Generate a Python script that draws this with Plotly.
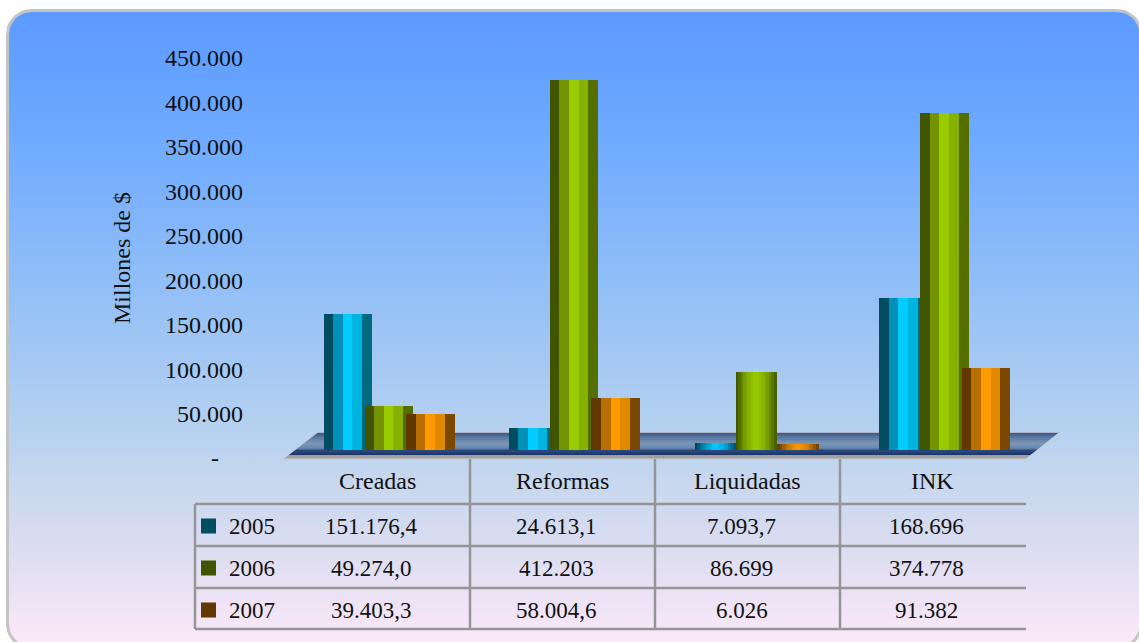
import numpy as np
import plotly.graph_objects as go

# ---------------- data ----------------
categories = ["Creadas", "Reformas", "Liquidadas", "INK"]
years = ["2005", "2006", "2007"]
values_2005 = [151176.4, 24613.1, 7093.7, 168696]
values_2006 = [49274.0, 412203, 86699, 374778]
values_2007 = [39403.3, 58004.6, 6026, 91382]
labels_2005 = ["151.176,4", "24.613,1", "7.093,7", "168.696"]
labels_2006 = ["49.274,0", "412.203", "86.699", "374.778"]
labels_2007 = ["39.403,3", "58.004,6", "6.026", "91.382"]
tick_values = [0, 50000, 100000, 150000, 200000, 250000, 300000, 350000, 400000, 450000]
tick_labels = ["-\u00a0\u00a0\u00a0\u00a0", "50.000", "100.000", "150.000", "200.000",
               "250.000", "300.000", "350.000", "400.000", "450.000"]
y_title = "Millones de $"

series = [values_2005, values_2006, values_2007]
series_labels = [labels_2005, labels_2006, labels_2007]

# ---------------- styles ----------------
W, H = 1139, 642
FONT = "Liberation Serif"
stripe_colors = [
    ["#004C60", "#0090B8", "#00CCFF", "#00B4E0", "#006B80"],
    ["#415500", "#739400", "#99CC00", "#88B000", "#556E00"],
    ["#603800", "#B86E00", "#FF9900", "#E08800", "#7A4800"],
]
smooth_keys = [
    ["#003A4C", "#0090B8", "#00CCFF", "#00A8D8", "#004C60"],
    ["#3A4E00", "#7DA600", "#99CC00", "#7FA800", "#405800"],
    ["#5A3400", "#C07400", "#FF9900", "#D88000", "#6A3E00"],
]
legend_colors = ["#004F60", "#3F5500", "#603800"]

U = 185.2                     # px per category
cat0 = 389.0                  # px of first category centre
pxk = 0.8976 / 1000           # px per value unit for bars
bar_base = 450.0
ymax = 480000

def hex2rgb(h):
    h = h.lstrip("#")
    return np.array([int(h[i:i + 2], 16) for i in (0, 2, 4)], float)

def interp_colors(keys, n):
    pts = np.linspace(0, 1, len(keys))
    rgbs = np.array([hex2rgb(k) for k in keys])
    out = []
    for t in (np.arange(n) + 0.5) / n:
        c = [np.interp(t, pts, rgbs[:, j]) for j in range(3)]
        out.append("rgb(%d,%d,%d)" % tuple(int(round(v)) for v in c))
    return out

fig = go.Figure()

# ---------------- background (pixel subplot) ----------------
def rounded_rect(x0, y0, x1, y1, r, n=12):
    xs, ys = [], []
    corners = [(x1 - r, y0 + r, -90, 0), (x1 - r, y1 - r, 0, 90),
               (x0 + r, y1 - r, 90, 180), (x0 + r, y0 + r, 180, 270)]
    for cx, cy, a0, a1 in corners:
        for a in np.linspace(np.radians(a0), np.radians(a1), n):
            xs.append(cx + r * np.cos(a))
            ys.append(cy + r * np.sin(a))
    xs.append(xs[0]); ys.append(ys[0])
    return xs, ys

bx, by = rounded_rect(7.5, 10.5, 1141, 648, 24)
fig.add_trace(go.Scatter(
    x=bx, y=by, mode="lines", fill="toself",
    line=dict(color="#C4C4C4", width=3),
    fillgradient=dict(type="vertical", start=10, stop=645, colorscale=[
        [0.0, "#5C9AFF"], [0.2, "#6EAAFF"], [0.45, "#94C0F6"], [0.65, "#B4D0F0"],
        [0.75, "#C8D8EE"], [0.85, "#DCDDF1"], [0.93, "#EDE3F5"], [1.0, "#FCE9F9"]]),
    hoverinfo="skip", showlegend=False, xaxis="x", yaxis="y"))

# floor
fig.add_trace(go.Scatter(
    x=[283, 318, 1060, 1026, 283], y=[459, 432, 432, 459, 459], mode="lines", fill="toself",
    line=dict(color="#C8CCD4", width=1),
    fillgradient=dict(type="vertical", start=432, stop=459, colorscale=[
        [0.0, "#C0C8D8"], [0.05, "#3E5A88"], [0.2, "#5A78A0"], [0.42, "#7A96B8"],
        [0.6, "#6A88AC"], [0.68, "#2C4A80"], [0.84, "#1C3668"], [0.86, "#9C9C9C"],
        [1.0, "#A4A4A4"]]),
    hoverinfo="skip", showlegend=False, xaxis="x", yaxis="y"))

# ---------------- bars ----------------
bar_w_px = 48.0
n_str = 5
centers_px = [-41.0, 0.0, 41.5]
liq_centers_px = [-44.0, -3.0, 38.6]
liq_w_px = 41.0
n_smooth = 16
liq_idx = categories.index("Liquidadas")

for s, vals in enumerate(series):
    striped_vals = [None if i == liq_idx else v for i, v in enumerate(vals)]
    sw = bar_w_px / n_str
    for k in range(n_str):
        left_px = centers_px[s] - bar_w_px / 2 + k * sw
        fig.add_trace(go.Bar(
            x=categories, y=striped_vals, offset=left_px / U, width=(sw + 0.6) / U,
            marker=dict(color=stripe_colors[s][k], line=dict(width=0)),
            hoverinfo="skip", showlegend=False, xaxis="x2", yaxis="y2"))
    liq_vals = [v if i == liq_idx else None for i, v in enumerate(vals)]
    cols = interp_colors(smooth_keys[s], n_smooth)
    sw2 = liq_w_px / n_smooth
    for k in range(n_smooth):
        left_px = liq_centers_px[s] - liq_w_px / 2 + k * sw2
        fig.add_trace(go.Bar(
            x=categories, y=liq_vals, offset=left_px / U, width=(sw2 + 0.6) / U,
            marker=dict(color=cols[k], line=dict(width=0)),
            hoverinfo="skip", showlegend=False, xaxis="x2", yaxis="y2"))

# invisible trace to carry the tick axis
fig.add_trace(go.Scatter(x=[0, 0], y=[0, 450000], mode="markers", marker=dict(opacity=0),
                         hoverinfo="skip", showlegend=False, xaxis="x3", yaxis="y3"))

# ---------------- table ----------------
shapes = []
line_col = "#959595"
lw = 2.5
col_edges = [285, 470, 655, 840, 1025]
row_lines = [504, 546, 588, 629]
for y in row_lines:
    shapes.append(dict(type="line", xref="x", yref="y", x0=195, x1=1026, y0=y, y1=y,
                       line=dict(color=line_col, width=lw), layer="above"))
for x in [470, 655, 840]:
    shapes.append(dict(type="line", xref="x", yref="y", x0=x, x1=x, y0=459, y1=629,
                       line=dict(color=line_col, width=lw), layer="above"))
shapes.append(dict(type="line", xref="x", yref="y", x0=195, x1=195, y0=504, y1=629,
                   line=dict(color=line_col, width=lw), layer="above"))

annotations = []
col_centers = [(col_edges[i] + col_edges[i + 1]) / 2 for i in range(4)]
for c, name in zip(col_centers, categories):
    annotations.append(dict(x=c, y=481, xref="x", yref="y", text=name, showarrow=False,
                            font=dict(family=FONT, size=24, color="#111111")))
row_centers = [526, 568, 610]
for r, (yr, labs) in enumerate(zip(years, series_labels)):
    yc = row_centers[r]
    shapes.append(dict(type="rect", xref="x", yref="y", x0=201, x1=216, y0=yc - 7.5, y1=yc + 7.5,
                       fillcolor=legend_colors[r], line=dict(width=0), layer="above"))
    annotations.append(dict(x=227, y=yc, xref="x", yref="y", text=yr, showarrow=False,
                            xanchor="left", font=dict(family=FONT, size=23, color="#111111")))
    for c, lab in zip(col_centers, labs):
        annotations.append(dict(x=c - 6, y=yc, xref="x", yref="y", text=lab, showarrow=False,
                                font=dict(family=FONT, size=23, color="#111111")))

annotations.append(dict(x=122, y=258, xref="x", yref="y", text=y_title, showarrow=False,
                        textangle=-90, font=dict(family=FONT, size=24, color="#111111")))

# ---------------- layout ----------------
x2_dom = [(cat0 - 0.5 * U) / W, (cat0 + 3.5 * U) / W]
y2_top_px = bar_base - ymax * pxk
y2_dom = [1 - bar_base / H, 1 - y2_top_px / H]
y3_dom = [1 - 458 / H, 1 - 58 / H]

fig.update_layout(
    width=W, height=H, autosize=False,
    margin=dict(l=0, r=0, t=0, b=0, pad=0, autoexpand=False),
    paper_bgcolor="white", plot_bgcolor="rgba(0,0,0,0)",
    barmode="overlay", bargap=0, showlegend=False,
    xaxis=dict(domain=[0, 1], range=[0, W], visible=False, fixedrange=True, automargin=False),
    yaxis=dict(domain=[0, 1], range=[H, 0], visible=False, fixedrange=True, automargin=False),
    xaxis2=dict(domain=x2_dom, range=[-0.5, 3.5], visible=False, anchor="y2", automargin=False),
    yaxis2=dict(domain=y2_dom, range=[0, ymax], visible=False, anchor="x2", automargin=False),
    xaxis3=dict(domain=[0, 1], range=[0, 1], visible=False, anchor="y3", automargin=False),
    yaxis3=dict(domain=y3_dom, range=[0, 450000], anchor="free", position=243 / W,
                automargin=False,
                tickvals=tick_values, ticktext=tick_labels, showgrid=False, zeroline=False,
                showline=False, ticks="", tickfont=dict(family=FONT, size=24, color="#111111")),
    shapes=shapes, annotations=annotations,
)

fig.write_html("out.html", config={"displayModeBar": False},
               post_script="document.body.style.margin='0';document.body.style.overflow='hidden';")
